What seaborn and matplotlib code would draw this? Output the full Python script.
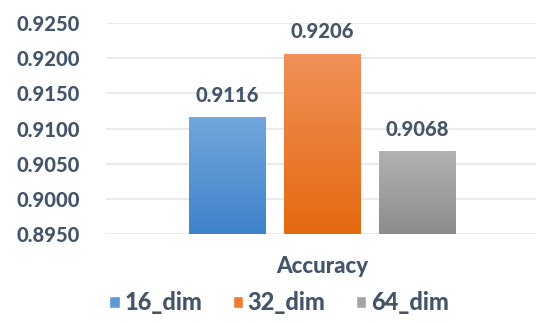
import numpy as np
import pandas as pd
import matplotlib
matplotlib.use("Agg")
import matplotlib.pyplot as plt
import seaborn as sns
from matplotlib.colors import LinearSegmentedColormap

categories = ["Accuracy"]
dims = ["16_dim", "32_dim", "64_dim"]
values = [0.9116, 0.9206, 0.9068]
tick_values = [0.8950, 0.9000, 0.9050, 0.9100, 0.9150, 0.9200, 0.9250]

# top / bottom colours of each bar's vertical gradient
top_colors = ["#72A6DC", "#F19058", "#B2B2B2"]
bottom_colors = ["#3E83CA", "#E4690F", "#8C8C8C"]
legend_colors = ["#5B9BD5", "#ED7D31", "#A5A5A5"]

text_color = "#44546A"
weight = 900

sns.set_theme(style="white")
plt.rcParams["font.family"] = ["Lato", "DejaVu Sans"]
plt.rcParams["font.weight"] = weight

df = pd.DataFrame({"metric": categories * len(dims), "dim": dims, "value": values})

fig = plt.figure(figsize=(5.36, 3.23), dpi=100)
ax = fig.add_axes([0.198, 0.2755, 0.806, 0.6533])

sns.barplot(data=df, x="metric", y="value", hue="dim", palette=legend_colors,
            width=0.66, gap=0.19, ax=ax, legend=True, saturation=1)

ax.set_ylim(0.895, 0.925)
ax.set_yticks(tick_values)
ax.set_yticklabels([f"{v:.4f}" for v in tick_values], fontweight=weight)
ax.yaxis.grid(True, color="#E3E6EA", linewidth=1.1)
ax.set_axisbelow(True)
for s in ax.spines.values():
    s.set_visible(False)
ax.tick_params(axis="y", length=0, pad=19, labelsize=14.5, labelcolor=text_color)
ax.tick_params(axis="x", length=0, labelbottom=False)
ax.set_ylabel("")
ax.set_xlabel("Accuracy", fontsize=16, fontweight=weight, color=text_color, labelpad=16)

# gradient fill clipped to each bar, plus the value label
bars = [p for p in ax.patches if p.get_height() > 0]
bars.sort(key=lambda p: p.get_x())
for bar, val, c_top, c_bot in zip(bars, values, top_colors, bottom_colors):
    x0 = bar.get_x()
    w = bar.get_width()
    cmap = LinearSegmentedColormap.from_list("g", [c_bot, c_top])
    grad = np.linspace(0, 1, 256).reshape(-1, 1)
    im = ax.imshow(grad, cmap=cmap, aspect="auto", origin="lower",
                   extent=[x0, x0 + w, 0.895, val], zorder=bar.get_zorder() + 0.1)
    im.set_clip_path(bar)
    bar.set_edgecolor("none")
    ax.annotate(f"{val:.4f}", (x0 + w / 2, val), xytext=(0, 9), textcoords="offset points",
                ha="center", va="bottom", fontsize=14.5, fontweight=weight, color=text_color)

ax.set_xlim(-0.5, 0.5)

handles, labels = ax.get_legend_handles_labels()
ax.legend_.remove()
fig.legend(handles, labels, loc="center", bbox_to_anchor=(0.521, 0.062), ncol=3,
           frameon=False, handlelength=0.43, handleheight=0.43, handletextpad=0.2,
           columnspacing=1.3, prop={"family": ["Lato", "DejaVu Sans"], "weight": weight, "size": 17},
           labelcolor=text_color)

fig.savefig("out.png", dpi=100)
